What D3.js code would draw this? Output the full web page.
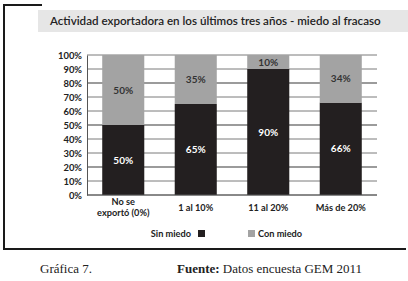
<!DOCTYPE html>
<html>
<head>
<meta charset="utf-8">
<script src="https://cdn.jsdelivr.net/npm/d3@7"></script>
<style>
  body { margin: 0; background: #fff; }
  svg { display: block; }
</style>
</head>
<body>
<div id="chart"></div>
<script>
const categories = ["No se\nexportó (0%)", "1 al 10%", "11 al 20%", "Más de 20%"];
const sinMiedo = [50, 65, 90, 66];
const conMiedo = [50, 35, 10, 34];
const yTicks = [0, 10, 20, 30, 40, 50, 60, 70, 80, 90, 100];
const seriesNames = ["Sin miedo", "Con miedo"];
const colors = ["#231f20", "#a3a3a3"];

const W = 408, H = 281;
const margin = { top: 55, right: 31, bottom: 86, left: 87 };
const width = W - margin.left - margin.right;
const height = H - margin.top - margin.bottom;
const font = "Lato, 'Open Sans', sans-serif";

const svg = d3.select("#chart").append("svg")
    .attr("width", W)
    .attr("height", H);

// frame: left + bottom + small top stub
svg.append("path")
    .attr("d", `M42,5 H4 V249 H406`)
    .attr("fill", "none")
    .attr("stroke", "#1a1a1a")
    .attr("stroke-width", 2);

// title box
svg.append("rect")
    .attr("x", 38).attr("y", 10)
    .attr("width", 370).attr("height", 22)
    .attr("fill", "#e6e6e6");
svg.append("text")
    .attr("x", 50).attr("y", 25)
    .attr("font-family", font)
    .attr("font-size", 11.6)
    .attr("font-weight", 600)
    .attr("fill", "#222")
    .text("Actividad exportadora en los últimos tres años - miedo al fracaso");

const g = svg.append("g")
    .attr("transform", `translate(${margin.left}, ${margin.top})`);

const x = d3.scaleBand().domain(categories).range([0, width]).paddingInner(0.42).paddingOuter(0.21);
const y = d3.scaleLinear().domain([0, 100]).range([height, 0]);

// gridlines
g.append("g")
    .selectAll("line")
    .data(yTicks)
    .join("line")
    .attr("x1", 0).attr("x2", width)
    .attr("y1", d => y(d)).attr("y2", d => y(d))
    .attr("stroke", "#7a7a7a")
    .attr("stroke-width", d => (d === 20 || d === 50 || d === 80) ? 1.6 : 1);

// y axis
const yAxis = g.append("g")
    .call(d3.axisLeft(y).tickValues(yTicks).tickSize(0).tickPadding(5).tickFormat(d => d + "%"));
yAxis.select(".domain").attr("stroke", "#555");
yAxis.selectAll("text")
    .attr("font-family", font)
    .attr("font-size", 9.4)
    .attr("font-weight", 700)
    .attr("fill", "#222");

// stacked bars
const stack = categories.map((c, i) => ({ c, a: sinMiedo[i], b: conMiedo[i] }));
const bars = g.append("g");
bars.selectAll(".sin")
    .data(stack)
    .join("rect")
    .attr("x", d => x(d.c))
    .attr("width", x.bandwidth())
    .attr("y", d => y(d.a))
    .attr("height", d => y(0) - y(d.a))
    .attr("fill", colors[0]);
bars.selectAll(".con")
    .data(stack)
    .join("rect")
    .attr("x", d => x(d.c))
    .attr("width", x.bandwidth())
    .attr("y", d => y(d.a + d.b))
    .attr("height", d => y(d.a) - y(d.a + d.b))
    .attr("fill", colors[1]);

// value labels
bars.selectAll(".lsin")
    .data(stack)
    .join("text")
    .attr("x", d => x(d.c) + x.bandwidth() / 2)
    .attr("y", d => y(d.a / 2) + 3.5)
    .attr("text-anchor", "middle")
    .attr("font-family", font)
    .attr("font-size", 10)
    .attr("font-weight", 700)
    .attr("fill", "#fff")
    .text(d => d.a + "%");
bars.selectAll(".lcon")
    .data(stack)
    .join("text")
    .attr("x", d => x(d.c) + x.bandwidth() / 2)
    .attr("y", d => y(d.a + d.b / 2) + 3.5)
    .attr("text-anchor", "middle")
    .attr("font-family", font)
    .attr("font-size", 10)
    .attr("font-weight", 700)
    .attr("fill", "#333")
    .text(d => d.b + "%");

// x axis line
g.append("line")
    .attr("x1", 0).attr("x2", width)
    .attr("y1", height).attr("y2", height)
    .attr("stroke", "#555");

// category labels
const catText = g.append("g").selectAll("text")
    .data(categories)
    .join("text")
    .attr("text-anchor", "middle")
    .attr("font-family", font)
    .attr("font-size", 9.2)
    .attr("font-weight", 700)
    .attr("fill", "#222")
    .attr("transform", d => `translate(${x(d) + x.bandwidth() / 2}, ${height + (d.includes("\n") ? 10 : 16)})`);
catText.each(function (d) {
    d3.select(this).selectAll("tspan")
        .data(d.split("\n"))
        .join("tspan")
        .attr("x", 0)
        .attr("dy", (t, i) => i ? 11 : 0)
        .text(t => t);
});

// legend
const legend = svg.append("g").attr("font-family", font).attr("font-size", 9.2).attr("font-weight", 700).attr("fill", "#222");
legend.append("text").attr("x", 191).attr("y", 237).attr("text-anchor", "end").text(seriesNames[0]);
legend.append("rect").attr("x", 198).attr("y", 230).attr("width", 7).attr("height", 7).attr("fill", colors[0]);
legend.append("rect").attr("x", 248).attr("y", 230).attr("width", 7).attr("height", 7).attr("fill", colors[1]);
legend.append("text").attr("x", 258).attr("y", 237).text(seriesNames[1]);

// footer
const foot = svg.append("g").attr("font-family", "'Liberation Serif', 'DejaVu Serif', serif").attr("font-size", 13).attr("fill", "#222");
foot.append("text").attr("x", 40).attr("y", 273).text("Gráfica 7.");
const src = foot.append("text").attr("x", 177).attr("y", 273);
src.append("tspan").attr("font-weight", 700).text("Fuente:");
src.append("tspan").text(" Datos encuesta GEM 2011");
</script>
</body>
</html>
